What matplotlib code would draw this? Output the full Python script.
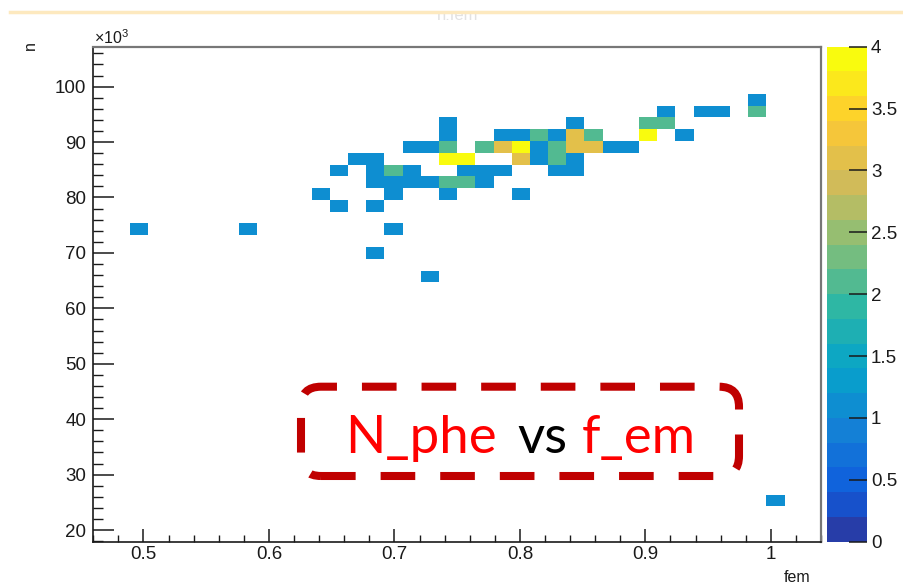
import numpy as np
import matplotlib
matplotlib.use("Agg")
import matplotlib.pyplot as plt
from matplotlib.colors import ListedColormap, BoundaryNorm
from matplotlib.patches import FancyBboxPatch, Rectangle
from matplotlib.lines import Line2D
from matplotlib.ticker import MultipleLocator, FuncFormatter

plt.rcParams["font.family"] = ["Liberation Sans", "DejaVu Sans"]
plt.rcParams["mathtext.fontset"] = "custom"
plt.rcParams["mathtext.rm"] = "Liberation Sans"

# filled cells of the n : fem histogram (bin centre, content)
fem = [0.496, 0.583, 0.699, 0.685, 0.728, 1.004,
       0.641, 0.656, 0.685, 0.699, 0.743, 0.801,
       0.685, 0.699, 0.714, 0.728, 0.743, 0.757, 0.772,
       0.656, 0.685, 0.699, 0.714, 0.757, 0.772, 0.786, 0.830, 0.844,
       0.670, 0.685, 0.743, 0.757, 0.801, 0.815, 0.830, 0.844,
       0.714, 0.728, 0.743, 0.772, 0.786, 0.801, 0.815, 0.830, 0.844, 0.859, 0.873, 0.888,
       0.743, 0.786, 0.801, 0.815, 0.830, 0.844, 0.859, 0.902, 0.931,
       0.743, 0.844, 0.902, 0.917,
       0.917, 0.946, 0.960, 0.989,
       0.989]
n_phe = [74240, 74240, 74240, 69990, 65740, 25340,
         80620, 78500, 78500, 80620, 80620, 80620,
         82750, 82750, 82750, 82750, 82750, 82750, 82750,
         84870, 84870, 84870, 84870, 84870, 84870, 84870, 84870, 84870,
         87000, 87000, 87000, 87000, 87000, 87000, 87000, 87000,
         89130, 89130, 89130, 89130, 89130, 89130, 89130, 89130, 89130, 89130, 89130, 89130,
         91250, 91250, 91250, 91250, 91250, 91250, 91250, 91250, 91250,
         93380, 93380, 93380, 93380,
         95510, 95510, 95510, 95510,
         97630]
counts = [1, 1, 1, 1, 1, 1,
          1, 1, 1, 1, 1, 1,
          1, 1, 1, 1, 2, 2, 1,
          1, 1, 2, 1, 1, 1, 1, 1, 1,
          1, 1, 4, 4, 3, 1, 2, 1,
          1, 1, 2, 2, 3, 4, 1, 2, 3, 3, 1, 1,
          1, 1, 1, 2, 1, 3, 2, 4, 1,
          1, 1, 2, 2,
          1, 1, 1, 2,
          1]

z_ticks = [0, 0.5, 1, 1.5, 2, 2.5, 3, 3.5, 4]

# ROOT kBird palette
bird_stops = [0.0, 0.125, 0.25, 0.375, 0.5, 0.625, 0.75, 0.875, 1.0]
bird_r = [0.2082, 0.0592, 0.0780, 0.0232, 0.1802, 0.5301, 0.8186, 0.9956, 0.9764]
bird_g = [0.1664, 0.3599, 0.5041, 0.6419, 0.7178, 0.7492, 0.7328, 0.7862, 0.9832]
bird_b = [0.5293, 0.8684, 0.8385, 0.7914, 0.6425, 0.4662, 0.3499, 0.1968, 0.0539]

ndivz = 20
band_colors = []
for k in range(ndivz):
    idx = min(int((k + 0.99) * 255 / ndivz), 254)
    f = idx / 254
    band_colors.append((np.interp(f, bird_stops, bird_r),
                        np.interp(f, bird_stops, bird_g),
                        np.interp(f, bird_stops, bird_b)))
cmap = ListedColormap(band_colors)
norm = BoundaryNorm(np.linspace(0, 4, ndivz + 1), ndivz)

H, xe, ye = np.histogram2d(fem, n_phe, bins=[40, 42],
                           range=[[0.46, 1.04], [17900, 107200]],
                           weights=counts)

W, Hpx = 904, 586
fig = plt.figure(figsize=(W / 100, Hpx / 100), dpi=100)
ax = fig.add_axes([93.3 / W, 44.3 / Hpx, 727.7 / W, 495 / Hpx])
cax = fig.add_axes([827.3 / W, 44.3 / Hpx, 39.4 / W, 495 / Hpx])

mesh = ax.pcolormesh(xe, ye, np.ma.masked_equal(H.T, 0), cmap=cmap, norm=norm)
ax.set_xlim(0.46, 1.04)
ax.set_ylim(17900, 107200)

ax.xaxis.set_major_locator(MultipleLocator(0.1))
ax.xaxis.set_minor_locator(MultipleLocator(0.02))
ax.yaxis.set_major_locator(MultipleLocator(10000))
ax.yaxis.set_minor_locator(MultipleLocator(2000))
ax.xaxis.set_major_formatter(FuncFormatter(lambda v, p: f"{v:g}"))
ax.yaxis.set_major_formatter(FuncFormatter(lambda v, p: f"{v / 1000:g}"))

tick_col = "#1a1a1a"
ax.tick_params(axis="x", which="major", direction="in", length=9.5, width=1.1,
               pad=3, labelsize=13.5, colors=tick_col)
ax.tick_params(axis="x", which="minor", direction="in", length=4.8, width=1.0,
               colors=tick_col)
ax.tick_params(axis="y", which="major", direction="in", length=15, width=1.1,
               pad=5, labelsize=13.5, colors=tick_col)
ax.tick_params(axis="y", which="minor", direction="in", length=7.5, width=1.0,
               colors=tick_col)
for side in ["left", "bottom"]:
    ax.spines[side].set_color(tick_col)
    ax.spines[side].set_linewidth(1.2)
for side in ["top", "right"]:
    ax.spines[side].set_color("#777777")
    ax.spines[side].set_linewidth(1.6)

cbar = fig.colorbar(mesh, cax=cax, ticks=z_ticks)
cbar.outline.set_visible(False)
cbar.ax.yaxis.set_major_formatter(FuncFormatter(lambda v, p: f"{v:g}"))
cbar.ax.tick_params(direction="in", length=13, width=1.1, pad=3,
                    labelsize=13.5, colors=tick_col)
cbar.ax.minorticks_off()

# axis titles
fig.text(30 / W, 1 - 46 / Hpx, "n", rotation=90, ha="center", va="center",
         fontsize=11.5, color=tick_col)
fig.text(797 / W, 1 - 577 / Hpx, "fem", ha="center", va="center",
         fontsize=11.5, color=tick_col)
fig.text(94 / W, 1 - 38 / Hpx, r"$\times10^{3}$", ha="left", va="center",
         fontsize=11.5, color=tick_col)

# histogram title, cut off at the top edge
fig.text(458 / W, 1 - 15 / Hpx, "n:fem", ha="center", va="center",
         fontsize=12, color="#e2e2e2")
fig.add_artist(Rectangle((0, 1 - 13 / Hpx), 1, 13 / Hpx, transform=fig.transFigure,
                         facecolor="white", edgecolor="none", zorder=5))
fig.add_artist(Line2D([10 / W, 1], [1 - 12 / Hpx, 1 - 12 / Hpx],
                      transform=fig.transFigure, color="#fde9bf", lw=2.5, zorder=6))

# dashed callout
box = FancyBboxPatch((3.01, 1.10), 4.38, 0.893,
                     boxstyle="round,pad=0,rounding_size=0.2",
                     transform=fig.dpi_scale_trans, fill=False,
                     edgecolor="#c00000", linewidth=5.8,
                     linestyle=(0, (4.3, 3.1)), zorder=7)
fig.add_artist(box)
base_y = (Hpx - 453) / Hpx
fig.text(345 / W, base_y, "N_phe", color="#ff0000", fontsize=38, family="Lato",
         ha="left", va="baseline", zorder=8)
fig.text(517 / W, base_y, "vs", color="black", fontsize=38, family="Lato",
         ha="left", va="baseline", zorder=8)
fig.text(582 / W, base_y, "f_em", color="#ff0000", fontsize=38, family="Lato",
         ha="left", va="baseline", zorder=8)

fig.savefig("out.png", dpi=100)
